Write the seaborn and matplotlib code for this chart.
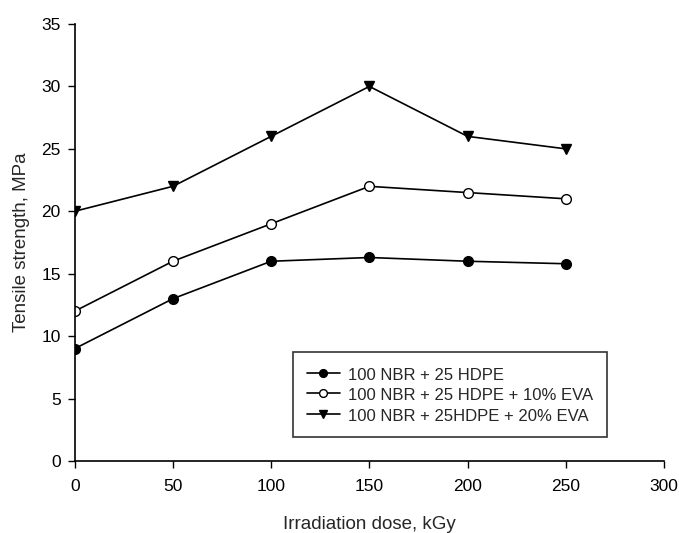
import pandas as pd
import seaborn as sns
import matplotlib.pyplot as plt

# data
dose = [0, 50, 100, 150, 200, 250]
nbr_hdpe = [9, 13, 16, 16.3, 16, 15.8]
eva10 = [12, 16, 19, 22, 21.5, 21]
eva20 = [20, 22, 26, 30, 26, 25]
labels = ["100 NBR + 25 HDPE", "100 NBR + 25 HDPE + 10% EVA", "100 NBR + 25HDPE + 20% EVA"]

rows = []
for name, vals in zip(labels, [nbr_hdpe, eva10, eva20]):
    for d, v in zip(dose, vals):
        rows.append((name, d, v))
df = pd.DataFrame(rows, columns=["Blend", "Dose", "Strength"])

sns.set_style("ticks")
plt.rcParams["font.family"] = ["Liberation Sans", "DejaVu Sans"]

fig = plt.figure(figsize=(6.79, 5.33), dpi=100)
ax = fig.add_axes([0.110, 0.135, 0.868, 0.820])

markers = {labels[0]: "o", labels[1]: "o", labels[2]: "v"}
palette = {l: "black" for l in labels}
sns.lineplot(data=df, x="Dose", y="Strength", hue="Blend", style="Blend",
             markers=markers, dashes=False, palette=palette, ax=ax,
             linewidth=1.2, markersize=7, markeredgecolor="black",
             markeredgewidth=1.0, legend=True)

# open circles for the 10% EVA series
ax.get_lines()[1].set_markerfacecolor("white")

ax.set_xlim(0, 300)
ax.set_ylim(0, 35)
ax.set_xticks(range(0, 301, 50))
ax.set_yticks(range(0, 36, 5))
ax.tick_params(labelsize=12.5, direction="out", length=5, width=1, colors="black")
ax.tick_params(axis="x", pad=8)
ax.tick_params(axis="y", pad=5)
for s in ["left", "bottom"]:
    ax.spines[s].set_linewidth(1.2)
    ax.spines[s].set_color("black")
sns.despine(ax=ax)

ax.set_xlabel("Irradiation dose, kGy", fontsize=13.5, labelpad=16)
ax.set_ylabel("Tensile strength, MPa", fontsize=13.5, labelpad=8)

leg = ax.legend(loc="lower right", bbox_to_anchor=(0.903, 0.055), borderaxespad=0,
                fontsize=12, frameon=True, fancybox=False, edgecolor="black",
                handlelength=2.0, handleheight=1.2, handletextpad=0.5,
                borderpad=0.8, labelspacing=0.2, markerscale=0.8)
leg.get_frame().set_linewidth(1.2)
for h in leg.legend_handles:
    h.set_color("black")
    h.set_markeredgecolor("black")
leg.legend_handles[0].set_markerfacecolor("black")
leg.legend_handles[1].set_markerfacecolor("white")
leg.legend_handles[2].set_markerfacecolor("black")

fig.savefig("out.png", dpi=100)
